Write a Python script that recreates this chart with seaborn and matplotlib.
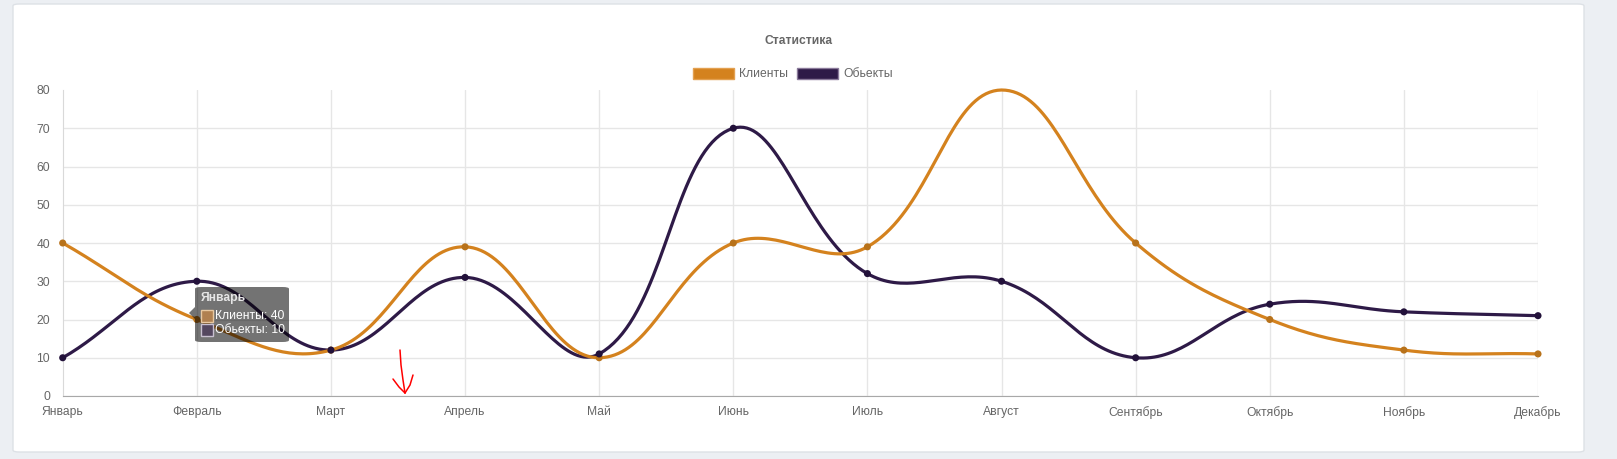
import numpy as np
import pandas as pd
import seaborn as sns
import matplotlib.pyplot as plt
from matplotlib.patches import FancyBboxPatch, Patch, Polygon
from matplotlib.lines import Line2D

months = ["Январь", "Февраль", "Март", "Апрель", "Май", "Июнь",
          "Июль", "Август", "Сентябрь", "Октябрь", "Ноябрь", "Декабрь"]
clients = [40, 20, 12, 39, 10, 40, 39, 80, 40, 20, 12, 11]
objects = [10, 30, 12, 31, 11, 70, 32, 30, 10, 24, 22, 21]
series_names = ["Клиенты", "Обьекты"]
yticks = [0, 10, 20, 30, 40, 50, 60, 70, 80]

orange = "#d4821e"
purple = "#2e1a47"
orange_pt = "#b8721a"
purple_pt = "#22113a"
txt = "#666666"

sns.set_style("white")
plt.rcParams["font.family"] = ["Liberation Sans", "DejaVu Sans"]

W, H = 1617, 459
fig = plt.figure(figsize=(W / 100, H / 100), dpi=100)
fig.patch.set_facecolor("#eceff3")


def px(x, y):
    return x / W, 1 - y / H


# card
cx0, cy0 = px(13, 452)
cx1, cy1 = px(1584, 4)
card = FancyBboxPatch((cx0, cy0), cx1 - cx0, cy1 - cy0,
                      boxstyle="round,pad=0,rounding_size=0.004",
                      transform=fig.transFigure, facecolor="white",
                      edgecolor="#dde1e6", linewidth=1, zorder=0)
fig.add_artist(card)

left, top = px(62.7, 90)
right, bottom = px(1538, 396)
ax = fig.add_axes([left, bottom, right - left, top - bottom])
ax.set_facecolor("none")
x = np.arange(len(months))
ax.set_xlim(0, len(months) - 1)
ax.set_ylim(0, 80)


def chartjs_curve(ys, tension=0.4, n=40):
    pts = ax.transData.transform(np.column_stack([x, ys]))
    bb = ax.bbox
    m = len(pts)
    prev_c = np.zeros_like(pts)
    next_c = np.zeros_like(pts)
    for i in range(m):
        p = pts[i - 1] if i > 0 else pts[i]
        c = pts[i]
        nx = pts[i + 1] if i < m - 1 else pts[i]
        d01 = np.hypot(*(c - p))
        d12 = np.hypot(*(nx - c))
        tot = d01 + d12
        s01 = d01 / tot if tot else 0
        s12 = d12 / tot if tot else 0
        prev_c[i] = c - tension * s01 * (nx - p)
        next_c[i] = c + tension * s12 * (nx - p)
    for arr in (prev_c, next_c):
        arr[:, 0] = np.clip(arr[:, 0], bb.x0, bb.x1)
        arr[:, 1] = np.clip(arr[:, 1], bb.y0, bb.y1)
    t = np.linspace(0, 1, n)[:, None]
    segs = []
    for i in range(m - 1):
        p0, c1, c2, p3 = pts[i], next_c[i], prev_c[i + 1], pts[i + 1]
        seg = ((1 - t) ** 3) * p0 + 3 * ((1 - t) ** 2) * t * c1 \
            + 3 * (1 - t) * t ** 2 * c2 + t ** 3 * p3
        segs.append(seg if i == 0 else seg[1:])
    curve = np.vstack(segs)
    return ax.transData.inverted().transform(curve)


for vals, col in [(objects, purple), (clients, orange)]:
    cv = chartjs_curve(np.array(vals, dtype=float))
    ax.plot(cv[:, 0], cv[:, 1], color=col, lw=2.3, solid_capstyle="round",
            zorder=3, clip_on=False)

df = pd.DataFrame({
    "idx": np.concatenate([x, x]),
    "val": clients + objects,
    "series": [series_names[0]] * len(x) + [series_names[1]] * len(x),
})
# the point sitting on the top edge is not shown in the original
df = df[df["val"] < 80]
sns.scatterplot(data=df, x="idx", y="val", hue="series",
                palette={series_names[0]: orange_pt, series_names[1]: purple_pt},
                s=26, linewidth=0, legend=False, ax=ax, zorder=4, clip_on=False)

ax.set_xlabel("")
ax.set_ylabel("")
ax.set_xticks(x)
ax.set_xticklabels(months)
ax.set_yticks(yticks)
ax.tick_params(axis="x", length=0, pad=7, labelsize=8.7, labelcolor=txt)
ax.tick_params(axis="y", length=7, width=1, color="#e6e6e6", pad=2,
               labelsize=8.7, labelcolor=txt)
ax.grid(True, color="#e6e6e6", lw=1)
ax.yaxis.get_gridlines()[-1].set_visible(False)
ax.xaxis.get_gridlines()[0].set_visible(False)
for s in ["top", "right"]:
    ax.spines[s].set_visible(False)
ax.spines["left"].set_color("#d9d9d9")
ax.spines["bottom"].set_color("#a8a8a8")
ax.set_axisbelow(True)

# title and legend
tx, ty = px(799, 40.7)
fig.text(tx, ty, "Статистика", ha="center", va="center", fontsize=8.7,
         fontweight="bold", color=txt)
handles = [Patch(facecolor=orange, edgecolor="#e3a050", lw=1),
           Patch(facecolor=purple, edgecolor="#8a7a9a", lw=1)]
lx, ly = px(793, 74)
fig.legend(handles, series_names, loc="center", bbox_to_anchor=(lx, ly),
           ncol=2, frameon=False, fontsize=8.7, labelcolor=txt,
           handlelength=3.4, handleheight=1.1, handletextpad=0.4,
           columnspacing=0.75, borderpad=0)

# tooltip
bx0, by0 = px(195, 342)
bx1, by1 = px(289, 287)
tip = FancyBboxPatch((bx0, by0), bx1 - bx0, by1 - by0,
                     boxstyle="round,pad=0,rounding_size=0.004",
                     transform=fig.transFigure, facecolor="#000000",
                     alpha=0.55, edgecolor="none", zorder=10)
fig.add_artist(tip)
caret = Polygon([px(195, 307), px(189, 313), px(195, 319)], closed=True,
                transform=fig.transFigure, facecolor="#000000", alpha=0.55,
                edgecolor="none", zorder=10)
fig.add_artist(caret)
fig.text(*px(201, 298), "Январь", ha="left", va="center", fontsize=8.7,
         fontweight="bold", color="#e6e6e6", zorder=11)
tip_rows = [(316, "#b08050", "#e8c8a0", f"{series_names[0]}: {clients[0]}"),
            (330, "#54475f", "#c8c0d0", f"{series_names[1]}: {objects[0]}")]
for yy, fc, ec, label in tip_rows:
    sx0, sy0 = px(201, yy + 6)
    sx1, sy1 = px(213, yy - 6)
    fig.add_artist(FancyBboxPatch((sx0, sy0), sx1 - sx0, sy1 - sy0,
                                  boxstyle="square,pad=0",
                                  transform=fig.transFigure, facecolor=fc,
                                  edgecolor=ec, lw=1, zorder=11))
    fig.text(*px(215, yy), label, ha="left", va="center", fontsize=8.7,
             color="white", zorder=11)

# red hand-drawn arrow
arrow_strokes = [[(400, 350), (401, 365), (403, 380), (405, 393)],
                 [(393, 379), (399, 387), (405, 393)],
                 [(413, 375), (410, 385), (405, 393)]]
for stroke in arrow_strokes:
    pts = [px(a, b) for a, b in stroke]
    fig.add_artist(Line2D([p[0] for p in pts], [p[1] for p in pts],
                          color="red", lw=1.1, transform=fig.transFigure,
                          zorder=12))

fig.savefig("out.png", dpi=100)
